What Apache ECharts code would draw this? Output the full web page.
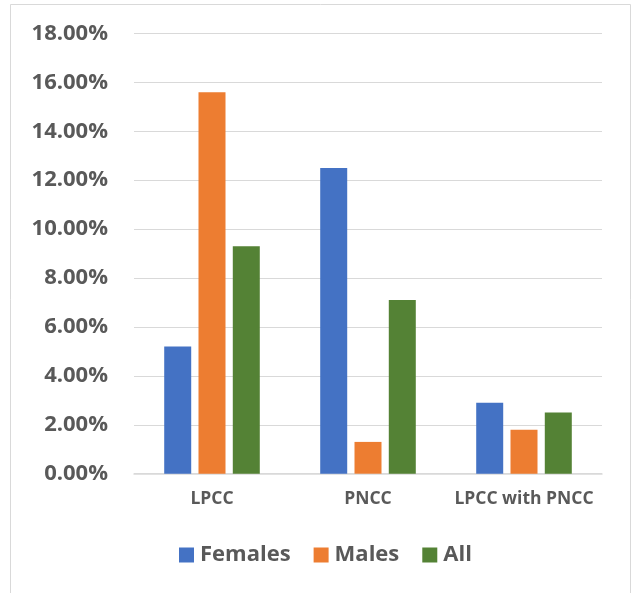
<!DOCTYPE html>
<html>
<head>
<meta charset="utf-8">
<style>
  html, body { margin: 0; padding: 0; background: #fff; }
  #chart { width: 633px; height: 593px; }
</style>
<script src="https://cdn.jsdelivr.net/npm/echarts@6/dist/echarts.min.js"></script>
</head>
<body>
<div id="chart"></div>
<script>
// Share of cases per group, in percent
const categories = ['LPCC', 'PNCC', 'LPCC with PNCC'];
const females = [5.2, 12.5, 2.9];
const males = [15.6, 1.3, 1.8];
const all = [9.3, 7.1, 2.5];
const seriesNames = ['Females', 'Males', 'All'];
const yTicks = { min: 0, max: 18, interval: 2 };

const FONT = '"Open Sans", "Liberation Sans", sans-serif';
const TEXT = '#595959';
const GRID = '#d9d9d9';
const COLORS = ['#4472C4', '#ED7D31', '#548235'];

const chart = echarts.init(document.getElementById('chart'), null, { renderer: 'canvas' });

function bar(name, data, color) {
  return {
    name: name,
    type: 'bar',
    data: data,
    barWidth: 27,
    barGap: '27%',
    itemStyle: { color: color },
    emphasis: { disabled: true }
  };
}

chart.setOption({
  animation: false,
  backgroundColor: '#fff',
  textStyle: { fontFamily: FONT },
  graphic: [{
    type: 'rect',
    shape: { x: 10.5, y: 4.5, width: 620, height: 600 },
    style: { fill: 'none', stroke: GRID, lineWidth: 1 },
    silent: true,
    z: -1
  }],
  grid: { left: 134, right: 31, top: 33.5, bottom: 119.3, containLabel: false },
  xAxis: {
    type: 'category',
    data: categories,
    axisLine: { show: true, lineStyle: { color: GRID, width: 1.5 } },
    axisTick: { show: false },
    axisLabel: {
      interval: 0,
      color: TEXT, fontFamily: FONT, fontWeight: 'bold', fontSize: 17.5, margin: 16
    }
  },
  yAxis: {
    type: 'value',
    min: yTicks.min,
    max: yTicks.max,
    interval: yTicks.interval,
    axisLine: { show: false },
    axisTick: { show: false },
    splitLine: { lineStyle: { color: GRID, width: 1 } },
    axisLabel: {
      color: TEXT, fontFamily: FONT, fontWeight: 'bold', fontSize: 22, margin: 26,
      formatter: v => v.toFixed(2) + '%'
    }
  },
  legend: {
    data: seriesNames,
    left: 179,
    top: 544,
    padding: 0,
    icon: 'rect',
    itemWidth: 15,
    itemHeight: 15,
    itemGap: 23,
    selectedMode: false,
    textStyle: {
      color: TEXT, fontFamily: FONT, fontWeight: 'bold', fontSize: 22,
      padding: [0, 0, 0, 1]
    }
  },
  series: [
    bar(seriesNames[0], females, COLORS[0]),
    bar(seriesNames[1], males, COLORS[1]),
    bar(seriesNames[2], all, COLORS[2])
  ]
});
</script>
</body>
</html>
